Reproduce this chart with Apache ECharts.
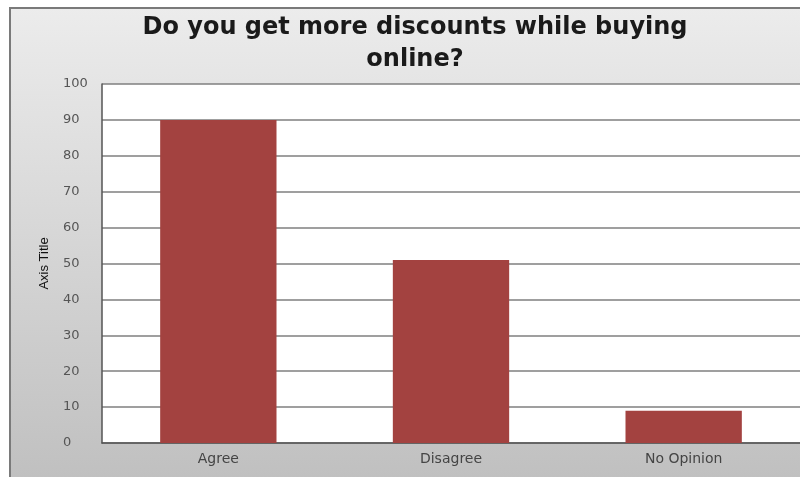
<!DOCTYPE html>
<html>
<head>
<meta charset="utf-8">
<script src="https://cdn.jsdelivr.net/npm/echarts@6/dist/echarts.min.js"></script>
<style>
  html, body { margin: 0; padding: 0; background: #ffffff; }
  #chart { width: 800px; height: 477px; }
</style>
</head>
<body>
<div id="chart"></div>
<script>
// Survey answers and the share of respondents for each
const categories = ['Agree', 'Disagree', 'No Opinion'];
const responses = [90, 51, 9];
const yTicks = [0, 10, 20, 30, 40, 50, 60, 70, 80, 90, 100];

const chart = echarts.init(document.getElementById('chart'), null, { renderer: 'canvas' });

chart.setOption({
  animation: false,
  backgroundColor: '#ffffff',
  graphic: [
    {
      type: 'rect',
      z: -10,
      silent: true,
      shape: { x: 10, y: 8, width: 800, height: 480 },
      style: {
        fill: {
          type: 'linear', x: 0, y: 0, x2: 0, y2: 1,
          colorStops: [
            { offset: 0, color: '#ececec' },
            { offset: 1, color: '#bfbfbf' }
          ]
        },
        stroke: '#7a7a7a',
        lineWidth: 2
      }
    }
  ],
  title: {
    text: 'Do you get more discounts while buying\nonline?',
    left: 410,
    top: 7,
    textAlign: 'center',
    textStyle: {
      fontFamily: 'DejaVu Sans',
      fontWeight: 'bold',
      fontSize: 24,
      lineHeight: 32,
      color: '#1a1a1a'
    }
  },
  grid: {
    left: 102,
    top: 84,
    width: 699,
    height: 359,
    show: true,
    backgroundColor: '#ffffff',
    borderWidth: 0
  },
  xAxis: {
    type: 'category',
    data: categories,
    axisTick: { show: false },
    axisLine: { lineStyle: { color: '#555555', width: 1.5 } },
    axisLabel: {
      margin: 9,
      fontFamily: 'DejaVu Sans',
      fontSize: 14,
      color: '#444444'
    },
    splitLine: { show: false }
  },
  yAxis: {
    type: 'value',
    min: yTicks[0],
    max: yTicks[yTicks.length - 1],
    interval: yTicks[1] - yTicks[0],
    name: 'Axis Title',
    nameLocation: 'middle',
    nameRotate: 90,
    nameGap: 51,
    nameTextStyle: {
      fontFamily: 'Liberation Sans',
      fontSize: 13,
      color: '#111111'
    },
    axisLine: { show: true, lineStyle: { color: '#555555', width: 1.5 } },
    axisTick: { show: false },
    axisLabel: {
      align: 'left',
      margin: 39,
      fontFamily: 'DejaVu Sans',
      fontSize: 13,
      color: '#555555'
    },
    splitLine: { lineStyle: { color: '#7f7f7f', width: 1.5 } }
  },
  series: [
    {
      type: 'bar',
      data: responses,
      barWidth: '50%',
      itemStyle: { color: '#a34240' }
    }
  ]
});
</script>
</body>
</html>
